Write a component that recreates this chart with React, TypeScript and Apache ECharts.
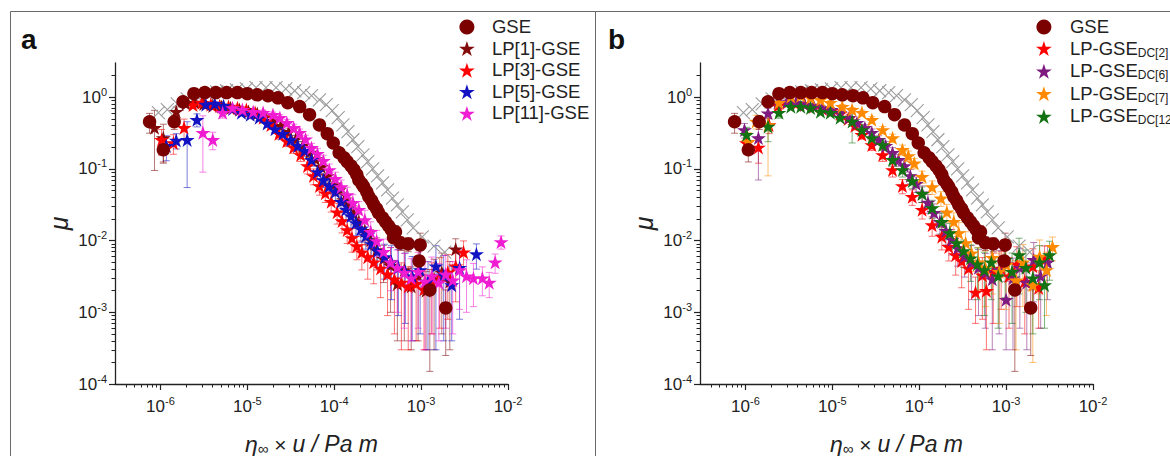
import React, { useEffect, useRef } from 'react';
import * as echarts from 'echarts';

// ---- axis ranges / ticks ----
const xAxisRange = [3e-7, 1e-2];
const yAxisRange = [1e-4, 3];
const xTickExponents = [-6, -5, -4, -3, -2];
const yTickExponents = [-4, -3, -2, -1, 0];

// ---- data: [eta_inf * u (Pa m), mu, error] ----
const gse = [
  [7.5e-7, 0.455, 0.14], [1.08e-6, 0.185, 0.06], [1.44e-6, 0.455, 0.1], [1.82e-6, 0.865, 0.1],
  [2.43e-6, 1.12, 0.07], [3.24e-6, 1.16, 0.05], [4.33e-6, 1.16, 0.05], [5.77e-6, 1.16, 0.05],
  [7.69e-6, 1.16, 0.05], [1.0e-5, 1.12, 0.05], [1.3e-5, 1.08, 0.05], [1.73e-5, 1.05, 0.05],
  [2.25e-5, 0.98, 0.05], [2.92e-5, 0.84, 0.04], [4.0e-5, 0.74, 0.04], [5.2e-5, 0.57, 0.03],
  [6.76e-5, 0.41, 0.03], [8.32e-5, 0.31, 0.02], [9.75e-5, 0.23, 0.015], [1.14e-4, 0.168, 0.01],
  [1.3e-4, 0.143, 0.01], [1.41e-4, 0.126, 0.008], [1.56e-4, 0.11, 0.007], [1.69e-4, 0.097, 0.006],
  [1.82e-4, 0.083, 0.005], [1.92e-4, 0.07, 0.005], [2.08e-4, 0.062, 0.004], [2.19e-4, 0.056, 0.004],
  [2.37e-4, 0.048, 0.004], [2.5e-4, 0.041, 0.003], [2.7e-4, 0.036, 0.003], [2.85e-4, 0.0316, 0.003],
  [3.08e-4, 0.0277, 0.003], [3.24e-4, 0.0244, 0.003], [3.6e-4, 0.0207, 0.003], [3.9e-4, 0.0182, 0.003],
  [4.22e-4, 0.016, 0.003], [4.56e-4, 0.0141, 0.003], [4.81e-4, 0.011, 0.002], [5.07e-4, 0.0132, 0.003],
  [5.77e-4, 0.0093, 0.002], [7.11e-4, 0.009, 0.002], [9.48e-4, 0.0052, 0.002], [9.75e-4, 0.0087, 0.004],
  [1.26e-3, 0.00205, 0.0019], [1.92e-3, 0.00115, 0.0009],
];

const reference = [
  [9.48e-7, 0.61], [1.2e-6, 0.67], [1.56e-6, 0.81], [2.03e-6, 0.95], [2.63e-6, 1.05], [3.42e-6, 1.12],
  [4.45e-6, 1.19], [5.77e-6, 1.23], [7.5e-6, 1.27], [9.75e-6, 1.31], [1.26e-5, 1.36], [1.64e-5, 1.36],
  [2.14e-5, 1.36], [2.77e-5, 1.31], [3.51e-5, 1.23], [4.45e-5, 1.16], [5.48e-5, 1.05], [6.76e-5, 0.92],
  [8.11e-5, 0.79], [9.48e-5, 0.65], [1.11e-4, 0.52], [1.26e-4, 0.41], [1.44e-4, 0.33], [1.64e-4, 0.255],
  [1.87e-4, 0.204], [2.14e-4, 0.157], [2.43e-4, 0.126], [2.77e-4, 0.1], [3.16e-4, 0.08], [3.6e-4, 0.064],
  [4.11e-4, 0.051], [4.68e-4, 0.039], [5.33e-4, 0.0315], [6.08e-4, 0.0252], [6.93e-4, 0.0195],
  [8.11e-4, 0.015], [1.03e-3, 0.0113], [1.41e-3, 0.0084], [1.87e-3, 0.0069],
];

const lp1 = [
  [8.55e-7, 0.375, 0.28], [1.08e-6, 0.27, 0.15], [1.52e-6, 0.63, 0.1], [1.97e-6, 0.81, 0.08],
  [2.5e-6, 0.84, 0.06], [3.16e-6, 0.81, 0.05], [4.0e-6, 0.76, 0.05], [5.07e-6, 0.74, 0.05],
  [6.41e-6, 0.71, 0.05], [8.11e-6, 0.67, 0.05], [1.03e-5, 0.63, 0.05], [1.3e-5, 0.59, 0.05],
  [1.6e-5, 0.53, 0.05], [1.97e-5, 0.47, 0.05], [2.43e-5, 0.4, 0.05], [3.0e-5, 0.33, 0.04],
  [3.6e-5, 0.26, 0.035], [4.33e-5, 0.21, 0.03], [5.2e-5, 0.17, 0.03], [6.08e-5, 0.138, 0.025],
  [7.11e-5, 0.107, 0.02], [8.32e-5, 0.08, 0.018], [9.75e-5, 0.06, 0.015], [1.14e-4, 0.051, 0.013],
  [1.3e-4, 0.037, 0.01], [1.48e-4, 0.0305, 0.009], [1.69e-4, 0.0236, 0.007], [1.92e-4, 0.0183, 0.006],
  [2.25e-4, 0.0137, 0.005], [2.63e-4, 0.0102, 0.004], [3.08e-4, 0.0074, 0.0035], [3.7e-4, 0.0056, 0.003],
  [4.45e-4, 0.0045, 0.0035], [5.33e-4, 0.0025, 0.0021], [6.41e-4, 0.0039, 0.0035], [7.69e-4, 0.0023, 0.002],
  [9.24e-4, 0.0032, 0.0028], [1.14e-3, 0.002, 0.0017], [1.41e-3, 0.0029, 0.0026], [1.73e-3, 0.0036, 0.0031],
  [2.14e-3, 0.0027, 0.0024], [2.5e-3, 0.0076, 0.003],
];

const lp3 = [
  [1.03e-6, 0.255, 0.1], [1.41e-6, 0.23, 0.07], [1.87e-6, 0.375, 0.12], [2.37e-6, 0.78, 0.08],
  [3.0e-6, 0.84, 0.07], [3.8e-6, 0.79, 0.06], [4.81e-6, 0.76, 0.05], [6.08e-6, 0.74, 0.05],
  [7.69e-6, 0.71, 0.05], [9.75e-6, 0.67, 0.05], [1.23e-5, 0.61, 0.05], [1.52e-5, 0.52, 0.05],
  [1.87e-5, 0.41, 0.05], [2.31e-5, 0.31, 0.05], [2.85e-5, 0.245, 0.04], [3.42e-5, 0.2, 0.035],
  [4.11e-5, 0.157, 0.03], [4.93e-5, 0.11, 0.025], [5.77e-5, 0.08, 0.02], [6.76e-5, 0.058, 0.015],
  [7.9e-5, 0.046, 0.012], [9.24e-5, 0.035, 0.01], [1.08e-4, 0.025, 0.008], [1.23e-4, 0.0188, 0.006],
  [1.41e-4, 0.0141, 0.005], [1.6e-4, 0.0109, 0.004], [1.82e-4, 0.0084, 0.003], [2.08e-4, 0.0069, 0.003],
  [2.43e-4, 0.0059, 0.003], [2.85e-4, 0.005, 0.0025], [3.42e-4, 0.0041, 0.0025], [4.11e-4, 0.0034, 0.0025],
  [4.93e-4, 0.0029, 0.0024], [5.93e-4, 0.0026, 0.0023], [7.11e-4, 0.0023, 0.002], [8.77e-4, 0.0025, 0.0021],
  [1.08e-3, 0.0021, 0.0018], [1.33e-3, 0.0027, 0.0022], [1.64e-3, 0.0032, 0.0026], [2.03e-3, 0.0036, 0.0028],
  [2.5e-3, 0.0044, 0.003], [3.08e-3, 0.0069, 0.003],
];

const lp5 = [
  [1.17e-6, 0.21, 0.08], [1.52e-6, 0.25, 0.06], [2.03e-6, 0.255, 0.2], [2.63e-6, 0.485, 0.1],
  [3.33e-6, 0.79, 0.08], [4.22e-6, 0.81, 0.06], [5.33e-6, 0.76, 0.05], [6.76e-6, 0.69, 0.05],
  [8.55e-6, 0.61, 0.05], [1.08e-5, 0.57, 0.05], [1.37e-5, 0.52, 0.05], [1.69e-5, 0.43, 0.05],
  [2.08e-5, 0.36, 0.04], [2.56e-5, 0.31, 0.04], [3.16e-5, 0.255, 0.035], [3.8e-5, 0.21, 0.03],
  [4.56e-5, 0.18, 0.03], [5.48e-5, 0.134, 0.025], [6.41e-5, 0.091, 0.02], [7.5e-5, 0.07, 0.015],
  [8.77e-5, 0.058, 0.013], [1.03e-4, 0.048, 0.012], [1.2e-4, 0.035, 0.01], [1.37e-4, 0.0273, 0.008],
  [1.56e-4, 0.022, 0.007], [1.78e-4, 0.0177, 0.006], [2.03e-4, 0.0145, 0.005], [2.31e-4, 0.0116, 0.004],
  [2.7e-4, 0.009, 0.0035], [3.16e-4, 0.0072, 0.003], [3.8e-4, 0.0059, 0.003], [4.56e-4, 0.005, 0.0035],
  [5.48e-4, 0.0042, 0.0033], [6.58e-4, 0.0037, 0.003], [7.9e-4, 0.0032, 0.0028], [9.75e-4, 0.0039, 0.0034],
  [1.2e-3, 0.0027, 0.0024], [1.48e-3, 0.0044, 0.0041], [1.82e-3, 0.0033, 0.0029], [2.25e-3, 0.0024, 0.002],
  [2.77e-3, 0.0042, 0.0034], [4.33e-3, 0.0065, 0.0025],
];

const lp11 = [
  [3.08e-6, 0.32, 0.23], [4.0e-6, 0.255, 0.07], [5.2e-6, 0.61, 0.1], [6.76e-6, 0.71, 0.07],
  [8.77e-6, 0.67, 0.06], [1.17e-5, 0.63, 0.05], [1.52e-5, 0.61, 0.05], [1.97e-5, 0.57, 0.05],
  [2.37e-5, 0.52, 0.05], [2.85e-5, 0.44, 0.05], [3.42e-5, 0.375, 0.045], [4.0e-5, 0.32, 0.04],
  [4.68e-5, 0.26, 0.035], [5.48e-5, 0.197, 0.03], [6.41e-5, 0.163, 0.03], [7.5e-5, 0.13, 0.025],
  [8.77e-5, 0.097, 0.02], [1.03e-4, 0.073, 0.017], [1.2e-4, 0.056, 0.014], [1.41e-4, 0.0435, 0.012],
  [1.64e-4, 0.0337, 0.01], [1.92e-4, 0.027, 0.008], [2.25e-4, 0.0195, 0.007], [2.63e-4, 0.0133, 0.005],
  [3.08e-4, 0.0099, 0.004], [3.7e-4, 0.007, 0.0035], [4.45e-4, 0.005, 0.003], [5.33e-4, 0.0042, 0.0032],
  [6.41e-4, 0.0036, 0.003], [7.69e-4, 0.003, 0.0026], [9.24e-4, 0.0037, 0.0031], [1.11e-3, 0.0027, 0.0024],
  [1.33e-3, 0.0032, 0.0027], [1.6e-3, 0.0026, 0.0022], [1.92e-3, 0.0034, 0.0028], [2.31e-3, 0.0028, 0.0023],
  [2.77e-3, 0.0039, 0.0028], [3.33e-3, 0.0032, 0.0022], [4.0e-3, 0.003, 0.0018], [5.07e-3, 0.003, 0.0013],
  [6.08e-3, 0.0026, 0.001], [7.11e-3, 0.005, 0.0015], [8.32e-3, 0.0096, 0.002],
];

const dc2 = [
  [1.03e-6, 0.23, 0.06], [1.41e-6, 0.2, 0.08], [1.87e-6, 0.41, 0.1], [2.37e-6, 0.76, 0.08],
  [3.0e-6, 0.84, 0.06], [3.8e-6, 0.81, 0.05], [4.81e-6, 0.79, 0.05], [6.08e-6, 0.74, 0.05],
  [7.69e-6, 0.69, 0.05], [9.75e-6, 0.65, 0.05], [1.23e-5, 0.59, 0.05], [1.52e-5, 0.5, 0.05],
  [1.82e-5, 0.4, 0.05], [2.19e-5, 0.3, 0.04], [2.85e-5, 0.216, 0.035], [3.8e-5, 0.157, 0.03],
  [4.93e-5, 0.097, 0.02], [6.41e-5, 0.058, 0.013], [8.32e-5, 0.041, 0.01], [1.08e-4, 0.027, 0.007],
  [1.41e-4, 0.0165, 0.005], [1.82e-4, 0.0114, 0.004], [2.19e-4, 0.0082, 0.003], [2.63e-4, 0.0063, 0.003],
  [3.08e-4, 0.0052, 0.003], [3.7e-4, 0.0041, 0.003], [4.45e-4, 0.0019, 0.0012], [5.33e-4, 0.0033, 0.0025],
  [5.93e-4, 0.002, 0.0017], [7.11e-4, 0.0037, 0.003], [8.77e-4, 0.0041, 0.003], [1.08e-3, 0.0032, 0.0026],
  [1.33e-3, 0.0047, 0.0035], [1.64e-3, 0.0027, 0.0022], [2.03e-3, 0.0044, 0.0033], [2.37e-3, 0.0022, 0.0016],
  [2.77e-3, 0.0054, 0.003],
];

const dc6 = [
  [9.75e-7, 0.35, 0.08], [1.41e-6, 0.27, 0.2], [1.82e-6, 0.6, 0.1], [2.37e-6, 0.84, 0.07],
  [3.0e-6, 0.86, 0.06], [3.8e-6, 0.84, 0.05], [4.81e-6, 0.79, 0.05], [6.08e-6, 0.76, 0.05],
  [7.69e-6, 0.71, 0.05], [9.75e-6, 0.67, 0.05], [1.23e-5, 0.61, 0.05], [1.56e-5, 0.52, 0.05],
  [1.92e-5, 0.44, 0.05], [2.37e-5, 0.375, 0.04], [2.85e-5, 0.32, 0.04], [3.42e-5, 0.255, 0.035],
  [4.11e-5, 0.21, 0.03], [4.93e-5, 0.168, 0.03], [5.77e-5, 0.134, 0.025], [6.76e-5, 0.11, 0.02],
  [7.9e-5, 0.08, 0.018], [9.24e-5, 0.062, 0.015], [1.08e-4, 0.046, 0.012], [1.26e-4, 0.034, 0.01],
  [1.48e-4, 0.0245, 0.008], [1.73e-4, 0.0183, 0.006], [2.03e-4, 0.0137, 0.005], [2.37e-4, 0.0103, 0.004],
  [2.77e-4, 0.0079, 0.0035], [3.33e-4, 0.0061, 0.003], [4.0e-4, 0.005, 0.0035], [4.81e-4, 0.0042, 0.0033],
  [5.77e-4, 0.0036, 0.003], [6.93e-4, 0.0029, 0.0026], [8.32e-4, 0.0039, 0.0034], [1.0e-3, 0.0015, 0.0012],
  [1.2e-3, 0.003, 0.0027], [1.44e-3, 0.0042, 0.0036], [1.73e-3, 0.0026, 0.0023], [2.08e-3, 0.0054, 0.004],
  [2.5e-3, 0.0032, 0.0026], [3.0e-3, 0.005, 0.0035],
];

const dc7 = [
  [1.08e-6, 0.24, 0.08], [1.33e-6, 0.46, 0.1], [1.82e-6, 0.41, 0.33], [2.43e-6, 0.84, 0.08],
  [3.33e-6, 1.02, 0.07], [4.33e-6, 1.05, 0.06], [5.62e-6, 0.98, 0.06], [7.31e-6, 0.92, 0.05],
  [9.49e-6, 0.84, 0.05], [1.3e-5, 0.74, 0.05], [1.69e-5, 0.67, 0.05], [2.19e-5, 0.61, 0.05],
  [2.85e-5, 0.485, 0.05], [3.8e-5, 0.35, 0.04], [4.93e-5, 0.27, 0.035], [6.41e-5, 0.185, 0.03],
  [7.5e-5, 0.152, 0.025], [8.77e-5, 0.12, 0.02], [1.08e-4, 0.078, 0.015], [1.41e-4, 0.056, 0.012],
  [1.78e-4, 0.039, 0.009], [2.08e-4, 0.025, 0.007], [2.5e-4, 0.0184, 0.006], [2.85e-4, 0.0128, 0.005],
  [3.42e-4, 0.0093, 0.004], [4.0e-4, 0.0067, 0.003], [4.81e-4, 0.005, 0.003], [5.77e-4, 0.0042, 0.003],
  [6.93e-4, 0.0058, 0.004], [8.32e-4, 0.0037, 0.003], [1.0e-3, 0.0046, 0.0035], [1.3e-3, 0.0028, 0.0025],
  [1.56e-3, 0.005, 0.0038], [2.03e-3, 0.0024, 0.0022], [2.43e-3, 0.006, 0.0042], [2.92e-3, 0.0039, 0.003],
  [3.42e-3, 0.0082, 0.003],
];

const dc12 = [
  [1.03e-6, 0.3, 0.08], [1.82e-6, 0.39, 0.15], [2.43e-6, 0.61, 0.1], [3.33e-6, 0.74, 0.06],
  [4.33e-6, 0.74, 0.05], [5.62e-6, 0.71, 0.05], [7.31e-6, 0.63, 0.05], [9.49e-6, 0.61, 0.05],
  [1.23e-5, 0.52, 0.05], [1.69e-5, 0.46, 0.23], [2.19e-5, 0.35, 0.05], [2.85e-5, 0.27, 0.04],
  [3.8e-5, 0.216, 0.035], [4.93e-5, 0.134, 0.025], [6.41e-5, 0.097, 0.02], [8.32e-5, 0.068, 0.015],
  [1.08e-4, 0.045, 0.011], [1.41e-4, 0.0285, 0.008], [1.82e-4, 0.0183, 0.006], [2.25e-4, 0.0128, 0.0045],
  [2.7e-4, 0.0093, 0.0035], [3.24e-4, 0.0072, 0.003], [3.9e-4, 0.0057, 0.003], [4.68e-4, 0.0047, 0.0032],
  [5.62e-4, 0.0039, 0.003], [6.76e-4, 0.005, 0.0035], [8.11e-4, 0.0032, 0.0026], [9.75e-4, 0.0054, 0.0038],
  [1.17e-3, 0.0037, 0.003], [1.41e-3, 0.0063, 0.0045], [1.69e-3, 0.0042, 0.0032], [2.03e-3, 0.003, 0.0025],
  [2.43e-3, 0.005, 0.0035], [2.77e-3, 0.0024, 0.0018], [3.16e-3, 0.0063, 0.0035],
];

const legendNamesA = ['GSE', 'LP[1]-GSE', 'LP[3]-GSE', 'LP[5]-GSE', 'LP[11]-GSE'];
const legendNamesB = ['GSE', 'LP-GSE DC[2]', 'LP-GSE DC[6]', 'LP-GSE DC[7]', 'LP-GSE DC[12]'];

const COLORS: any = {
  gse: '#7B0000', ref: '#9C9C9C', lp1: '#820A0A', lp3: '#FF0000', lp5: '#1212C2', lp11: '#F01CD2',
  dc2: '#FF0000', dc6: '#7E1A80', dc7: '#FF8A00', dc12: '#137313',
};

const STAR = 'path://M50,2L61.8,37.9L99.5,37.9L69,60.1L80.6,96L50,73.8L19.4,96L31,60.1L0.5,37.9L38.2,37.9Z';
const CROSS = 'path://M0,0L10,10M10,0L0,10';
const FONT = '"Liberation Sans", Arial, Helvetica, sans-serif';

const L = Math.log10;

function minorTicks(lo: number, hi: number) {
  const out: number[] = [];
  for (let n = Math.floor(lo); n < Math.ceil(hi); n++) {
    for (let k = 2; k <= 9; k++) {
      const v = n + L(k);
      if (v > lo + 1e-9 && v < hi - 1e-9) out.push(v);
    }
  }
  return out;
}

const toPoints = (d: number[][]) => d.map((r) => [L(r[0]), L(r[1])]);
const toErrors = (d: number[][]) =>
  d.map((r) => [L(r[0]), L(Math.max(r[1] - r[2], 1.05e-4)), L(r[1] + r[2])]);

function errorSeries(name: string, data: number[][], color: string, axis: number) {
  return {
    type: 'custom', name: name + ' error', xAxisIndex: axis, yAxisIndex: axis,
    data: toErrors(data), encode: { x: 0, y: [1, 2] }, z: 1, silent: true, clip: true,
    renderItem: (params: any, api: any) => {
      const x = api.value(0);
      const a = api.coord([x, api.value(2)]);
      const b = api.coord([x, api.value(1)]);
      const st = { stroke: color, lineWidth: 1, opacity: 0.55 };
      return {
        type: 'group',
        children: [
          { type: 'line', shape: { x1: a[0], y1: a[1], x2: b[0], y2: b[1] }, style: st },
          { type: 'line', shape: { x1: a[0] - 3.5, y1: a[1], x2: a[0] + 3.5, y2: a[1] }, style: st },
          { type: 'line', shape: { x1: b[0] - 3.5, y1: b[1], x2: b[0] + 3.5, y2: b[1] }, style: st },
        ],
      };
    },
  };
}

function scatterSeries(name: string, data: number[][], color: string, axis: number, symbol: string, size: number, z: number) {
  return {
    type: 'scatter', name, xAxisIndex: axis, yAxisIndex: axis, data: toPoints(data),
    symbol, symbolSize: size, symbolKeepAspect: true, z, silent: true,
    itemStyle: { color, opacity: 1 },
  };
}

function refSeries(axis: number) {
  return {
    type: 'scatter', name: 'reference ' + axis, xAxisIndex: axis, yAxisIndex: axis, data: toPoints(reference),
    symbol: CROSS, symbolSize: 13, z: 2, silent: true,
    itemStyle: { color: 'rgba(0,0,0,0)', borderColor: COLORS.ref, borderWidth: 1.1, opacity: 1 },
  };
}

const powLabel = (v: number) => `{b|10}{s|${Math.round(v)}}`;
const tickRich = {
  b: { fontSize: 17, lineHeight: 22, fontFamily: FONT, color: '#222' },
  s: { fontSize: 11, verticalAlign: 'top', fontFamily: FONT, color: '#222' },
};

function xAxes(grid: number) {
  const lo = L(xAxisRange[0]);
  const hi = L(xAxisRange[1]);
  return [
    {
      type: 'value', gridIndex: grid, position: 'bottom', min: lo, max: hi,
      axisLine: { show: true, onZero: false, lineStyle: { color: '#222', width: 1.3 } },
      axisTick: { show: true, customValues: xTickExponents, length: 6, lineStyle: { color: '#222', width: 1.2 } },
      axisLabel: { customValues: xTickExponents, formatter: powLabel, margin: 11, rich: tickRich },
      splitLine: { show: false },
      name: '{i|η}{inf|∞}{t| × }{i|u / Pa m}', nameLocation: 'middle', nameGap: 49,
      nameTextStyle: {
        rich: {
          i: { fontSize: 23, fontStyle: 'italic', lineHeight: 22, fontFamily: FONT, color: '#222' },
          t: { fontSize: 21, lineHeight: 22, fontFamily: FONT, color: '#222' },
          inf: { fontSize: 15, lineHeight: 22, verticalAlign: 'middle', padding: [8, 0, 0, 0], fontFamily: FONT, color: '#222' },
        },
      },
    },
    {
      type: 'value', gridIndex: grid, position: 'bottom', min: lo, max: hi,
      axisLine: { show: false, onZero: false },
      axisTick: { show: true, customValues: minorTicks(lo, hi), length: 3.5, lineStyle: { color: '#222', width: 1 } },
      axisLabel: { show: false },
      splitLine: { show: false },
    },
  ];
}

function yAxes(grid: number) {
  const lo = L(yAxisRange[0]);
  const hi = L(yAxisRange[1]);
  return [
    {
      type: 'value', gridIndex: grid, position: 'left', min: lo, max: hi,
      axisLine: { show: true, onZero: false, lineStyle: { color: '#222', width: 1.3 } },
      axisTick: { show: true, customValues: yTickExponents, length: 6, lineStyle: { color: '#222', width: 1.2 } },
      axisLabel: { customValues: yTickExponents, formatter: powLabel, margin: 8, rich: tickRich },
      splitLine: { show: false },
      name: '{i|μ}', nameLocation: 'middle', nameGap: 42,
      nameTextStyle: {
        rich: { i: { fontSize: 25, fontStyle: 'italic', lineHeight: 28, fontFamily: FONT, color: '#222' } },
      },
    },
    {
      type: 'value', gridIndex: grid, position: 'left', min: lo, max: hi,
      axisLine: { show: false, onZero: false },
      axisTick: { show: true, customValues: minorTicks(lo, hi), length: 3.5, lineStyle: { color: '#222', width: 1 } },
      axisLabel: { show: false },
      splitLine: { show: false },
    },
  ];
}

function legendFormatter(name: string) {
  const i = name.indexOf(' DC');
  if (i >= 0) return `{b|${name.slice(0, i)}}{sub|${name.slice(i + 1)}}`;
  return `{b|${name}}`;
}

function legendOf(names: string[], left: number, pad: number) {
  return {
    orient: 'vertical', left, top: 17, padding: 0, itemWidth: 22, itemHeight: 15, itemGap: 2.6,
    selectedMode: false,
    data: names.map((n) => ({ name: n, icon: n === 'GSE' ? 'circle' : STAR })),
    formatter: legendFormatter,
    textStyle: {
      rich: {
        b: { fontSize: 18.5, lineHeight: 20, verticalAlign: 'top', padding: [0, 0, 0, pad], fontFamily: FONT, color: '#222' },
        sub: { fontSize: 12, verticalAlign: 'bottom', fontFamily: FONT, color: '#222' },
      },
    },
  };
}

export default function App() {
  const ref = useRef<HTMLDivElement>(null);

  useEffect(() => {
    if (!ref.current) return;
    const chart = echarts.init(ref.current, null, { renderer: 'svg' });

    const series: any[] = [
      // panel a
      errorSeries('LP[1]-GSE', lp1, COLORS.lp1, 0),
      errorSeries('LP[3]-GSE', lp3, COLORS.lp3, 0),
      errorSeries('LP[5]-GSE', lp5, COLORS.lp5, 0),
      errorSeries('LP[11]-GSE', lp11, COLORS.lp11, 0),
      errorSeries('GSE a', gse, COLORS.gse, 0),
      refSeries(0),
      scatterSeries('LP[1]-GSE', lp1, COLORS.lp1, 0, STAR, 15, 3),
      scatterSeries('LP[3]-GSE', lp3, COLORS.lp3, 0, STAR, 15, 3),
      scatterSeries('LP[5]-GSE', lp5, COLORS.lp5, 0, STAR, 15, 3),
      scatterSeries('LP[11]-GSE', lp11, COLORS.lp11, 0, STAR, 15, 3),
      scatterSeries('GSE', gse, COLORS.gse, 0, 'circle', 13.5, 4),
      // panel b
      errorSeries('LP-GSE DC[2]', dc2, COLORS.dc2, 2),
      errorSeries('LP-GSE DC[6]', dc6, COLORS.dc6, 2),
      errorSeries('LP-GSE DC[7]', dc7, COLORS.dc7, 2),
      errorSeries('LP-GSE DC[12]', dc12, COLORS.dc12, 2),
      errorSeries('GSE b', gse, COLORS.gse, 2),
      refSeries(2),
      scatterSeries('LP-GSE DC[2]', dc2, COLORS.dc2, 2, STAR, 15, 3),
      scatterSeries('LP-GSE DC[6]', dc6, COLORS.dc6, 2, STAR, 15, 3),
      scatterSeries('LP-GSE DC[7]', dc7, COLORS.dc7, 2, STAR, 15, 3),
      scatterSeries('LP-GSE DC[12]', dc12, COLORS.dc12, 2, STAR, 15, 3),
      scatterSeries('GSE', gse, COLORS.gse, 2, 'circle', 13.5, 4),
    ];

    const option: any = {
      animation: false,
      backgroundColor: '#ffffff',
      textStyle: { fontFamily: FONT },
      grid: [
        { left: 115, top: 63, width: 393, height: 321, outerBoundsMode: 'none', containLabel: false },
        { left: 700, top: 63, width: 393, height: 321, outerBoundsMode: 'none', containLabel: false },
      ],
      xAxis: [...xAxes(0), ...xAxes(1)],
      yAxis: [...yAxes(0), ...yAxes(1)],
      legend: [legendOf(legendNamesA, 459, 9), legendOf(legendNamesB, 1036, 10)],
      graphic: [
        { type: 'rect', silent: true, z: -10, shape: { x: 10.5, y: 11.5, width: 585, height: 520 }, style: { fill: 'none', stroke: '#6a6a6a', lineWidth: 1 } },
        { type: 'rect', silent: true, z: -10, shape: { x: 595.5, y: 11.5, width: 620, height: 520 }, style: { fill: 'none', stroke: '#6a6a6a', lineWidth: 1 } },
        { type: 'text', silent: true, x: 21, y: 39.5, style: { text: 'a', fontSize: 28, fontWeight: 'bold', fontFamily: FONT, fill: '#111', verticalAlign: 'middle' } },
        { type: 'text', silent: true, x: 608, y: 39.5, style: { text: 'b', fontSize: 28, fontWeight: 'bold', fontFamily: FONT, fill: '#111', verticalAlign: 'middle' } },
      ],
      series,
    };

    chart.setOption(option);
    return () => chart.dispose();
  }, []);

  return (
    <div
      ref={ref}
      style={{ position: 'absolute', left: 0, top: 0, width: 1170, height: 456, background: '#fff' }}
    />
  );
}
